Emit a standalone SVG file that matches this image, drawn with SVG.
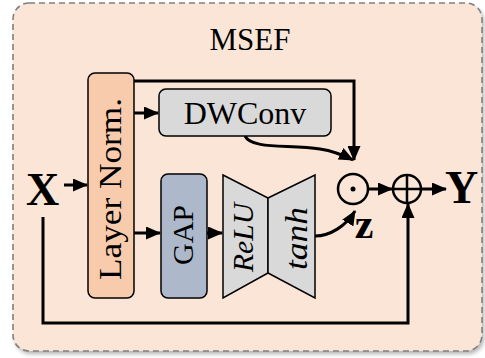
<svg xmlns="http://www.w3.org/2000/svg" width="485" height="358" viewBox="0 0 485 358">
<style>
.t{font-family:"Liberation Serif","Times New Roman",serif;fill:#000}
.box{stroke:#000;stroke-width:1.5}
.ln{fill:none;stroke:#000;stroke-width:3}
</style>
<defs>
<marker id="ah" viewBox="0 0 15 13" markerWidth="15" markerHeight="13" refX="14" refY="6.5" orient="auto" markerUnits="userSpaceOnUse">
<path d="M0,0 L15,6.5 L0,13 z" fill="#000"/>
</marker>
<filter id="sh" x="-5%" y="-5%" width="110%" height="110%">
<feGaussianBlur stdDeviation="2"/>
</filter>
</defs>
<g id="frame">
<rect x="15" y="6" width="469" height="348" rx="16" fill="#7f7f7f" opacity="0.6" filter="url(#sh)"/>
<rect x="13" y="3" width="469" height="348" rx="16" fill="#fbe5d6" stroke="#808080" stroke-width="1.6" stroke-dasharray="6 4"/>
<text class="t" x="250" y="50" font-size="31" text-anchor="middle">MSEF</text>
</g>
<g id="connectors">
<line class="ln" x1="64" y1="185" x2="87" y2="185" marker-end="url(#ah)"/>
<polyline class="ln" points="134,81 354,81 354,160" marker-end="url(#ah)"/>
<line class="ln" x1="134" y1="113" x2="158" y2="113" marker-end="url(#ah)"/>
<path class="ln" d="M245,136 C252,150 290,144 320,149 C333,151 343,155 353,160" marker-end="url(#ah)"/>
<line class="ln" x1="134" y1="233" x2="160" y2="233" marker-end="url(#ah)"/>
<line class="ln" x1="207" y1="233" x2="222" y2="233" marker-end="url(#ah)"/>
<path class="ln" d="M315,236 C330,236 346,226 355,211" marker-end="url(#ah)"/>
<line class="ln" x1="368" y1="189" x2="392" y2="189" marker-end="url(#ah)"/>
<line class="ln" x1="421" y1="189" x2="446" y2="189" marker-end="url(#ah)"/>
<polyline class="ln" points="43,217 43,323 408,323 408,204" marker-end="url(#ah)"/>
</g>
<g id="X"><text class="t" x="42.5" y="205" font-size="46" font-weight="bold" text-anchor="middle">X</text></g>
<g id="layernorm">
<rect class="box" x="88" y="73" width="46" height="225" rx="7" fill="#f8cbad"/>
<text class="t" transform="translate(121,189) rotate(-90)" font-size="31" text-anchor="middle" textLength="182" lengthAdjust="spacingAndGlyphs">Layer Norm.</text>
</g>
<g id="dwconv">
<rect class="box" x="159" y="89" width="172" height="47" rx="7" fill="#d9d9d9"/>
<text class="t" x="245" y="124" font-size="32" text-anchor="middle">DWConv</text>
</g>
<g id="gap">
<rect class="box" x="161" y="174" width="46" height="124" rx="7" fill="#adb9ca"/>
<text class="t" transform="translate(193,235) rotate(-90)" font-size="30" text-anchor="middle">GAP</text>
</g>
<g id="relu">
<polygon class="box" points="223,175 268,198 268,273 223,298" fill="#d9d9d9"/>
<text class="t" transform="translate(253,237.5) rotate(-90)" font-size="30" font-style="italic" text-anchor="middle" textLength="69" lengthAdjust="spacingAndGlyphs">ReLU</text>
</g>
<g id="tanh">
<polygon class="box" points="268,198 315,175 315,298 268,273" fill="#d9d9d9"/>
<text class="t" transform="translate(307,238.5) rotate(-90)" font-size="32" font-style="italic" text-anchor="middle" textLength="63" lengthAdjust="spacingAndGlyphs">tanh</text>
</g>
<g id="odot">
<circle cx="353" cy="189" r="15" fill="none" stroke="#000" stroke-width="2.5"/>
<circle cx="353" cy="189" r="2.5" fill="#000"/>
<text class="t" x="364" y="238" font-size="42" font-weight="bold" text-anchor="middle">z</text>
</g>
<g id="oplus">
<circle cx="407" cy="189" r="14" fill="none" stroke="#000" stroke-width="2.5"/>
<path d="M393,189 H421 M407,175 V203" stroke="#000" stroke-width="2.5"/>
</g>
<g id="Y"><text class="t" x="461.5" y="203" font-size="46" font-weight="bold" text-anchor="middle">Y</text></g>
</svg>
